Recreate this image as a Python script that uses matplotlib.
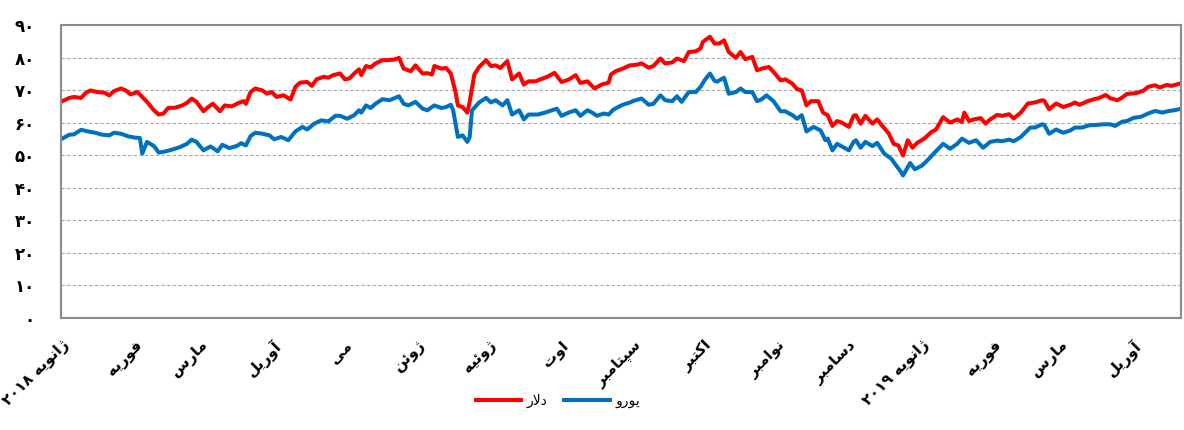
"""USD and EUR rate chart, Jan 2018 - Apr 2019, Persian labels."""

import matplotlib

matplotlib.use("Agg")
import matplotlib.pyplot as plt  # noqa: E402
import matplotlib.transforms as mtransforms  # noqa: E402
import pandas as pd  # noqa: E402

START = pd.Timestamp("2018-01-01")

# days since 2018-01-01
usd_day = [
    -2, 1, 3, 6, 8, 10, 13, 16, 18, 20, 23, 25, 27, 30, 32, 34, 37, 39, 41, 43, 46, 49, 51, 53, 55,
    58, 60, 62, 65, 67, 70, 73, 75,
    76, 78, 80, 83, 85, 87, 89, 92, 95, 97, 99, 102, 104, 106, 109, 111, 113, 116, 118, 120, 122,
    124, 125, 127, 129, 131, 134, 136, 139, 141, 143, 146, 148, 151, 153,
    155, 156, 159, 161, 163, 165, 166, 168, 170, 171, 173, 175, 178, 180, 182, 184, 187, 189, 192,
    194, 196, 199, 201, 204, 207, 210, 213, 216, 218, 221, 224, 227, 230, 231,
    233, 236, 239, 242, 244, 247, 249, 252, 254, 257, 259, 262, 264, 267, 269, 270, 273, 275, 277,
    279, 281, 284, 286, 288, 291, 293, 295, 298, 300, 303, 305, 308, 310,
    312, 314, 316, 319, 321, 323, 325, 327, 329, 332, 334, 335, 337, 339, 342, 344, 346, 349, 351,
    353, 355, 357, 359, 361, 364, 367, 369, 372, 375, 378, 380, 381, 383, 385, 388, 390,
    392, 395, 397, 400, 402, 405, 408, 411, 414, 415, 417, 420, 423, 426, 428, 430, 433, 436, 438,
    441, 443, 446, 448, 450, 454, 457, 459, 462, 464, 467, 469, 472,
]
usd_rate = [
    66.6, 67.6, 67.9, 67.6, 69.1, 69.9, 69.4, 69.2, 68.4, 69.7, 70.5, 69.9, 68.7, 69.4, 67.9, 66.4,
    63.8, 62.5, 62.8, 64.5, 64.6, 65.3, 66.1, 67.4, 66.4, 63.5, 64.8, 65.8, 63.5, 65.3, 65.0, 66.1,
    66.6,
    65.8, 69.4, 70.5, 69.9, 68.9, 69.4, 67.9, 68.4, 67.1, 71.0, 72.3, 72.5, 71.3, 73.3, 74.1, 73.8,
    74.6, 75.1, 73.3, 73.6, 75.1, 76.4, 74.6, 77.4, 77.0, 78.2, 79.2, 79.2, 79.4, 79.9, 76.6, 75.8,
    77.6, 75.1, 75.2,
    74.8, 77.4, 76.6, 76.8, 75.1, 69.4, 65.3, 64.8, 63.1, 66.4, 74.8, 77.1, 79.2, 77.4, 77.6, 76.8,
    78.9, 73.3, 75.1, 71.7, 72.7, 72.7, 73.3, 74.1, 75.3, 72.5, 73.2, 74.6, 72.2, 72.7, 70.5, 71.7,
    72.3, 74.8,
    75.8, 76.6, 77.6, 77.8, 78.2, 76.9, 77.4, 79.7, 78.2, 78.5, 79.7, 78.9, 81.7, 81.9, 82.8, 84.8,
    86.4, 84.3, 84.3, 85.3, 81.7, 79.9, 81.7, 79.5, 80.2, 76.1, 76.6, 77.1, 75.6, 73.0, 73.3, 72.0,
    70.3,
    69.9, 65.3, 66.6, 66.6, 63.1, 62.3, 59.0, 60.5, 60.0, 58.7, 62.1, 62.3, 59.7, 62.1, 59.7, 61.0,
    59.2, 56.6, 53.5, 53.0, 49.9, 54.6, 52.3, 53.8, 55.1, 57.1, 57.9, 61.7, 60.0, 61.0, 60.2, 63.1,
    60.5, 61.0, 61.4, 59.7,
    61.0, 62.4, 62.1, 62.6, 61.3, 63.1, 65.9, 66.2, 66.9, 66.7, 64.1, 65.9, 64.8, 65.5, 66.2, 65.5,
    66.5, 67.2, 67.5, 68.5, 67.5, 66.9, 67.7, 68.8, 69.1, 69.8, 71.0, 71.5, 70.8, 71.6, 71.3, 71.9,
]

eur_day = [
    -2, 1, 3, 6, 9, 12, 15, 18, 20, 23, 26, 29, 31, 32, 34, 37, 39, 42, 45, 48, 51, 53, 55, 58, 61,
    64, 66, 69, 72, 74,
    76, 78, 80, 83, 86, 88, 91, 94, 97, 100, 102, 105, 108, 111, 114, 116, 119, 122, 124, 125, 127,
    129, 131, 134, 137, 141, 143, 145, 148, 151, 153,
    156, 159, 161, 163, 164, 166, 168, 170, 171, 172, 175, 178, 180, 182, 185, 187, 189, 192, 194,
    196, 200, 203, 206, 208, 210, 213, 216, 218, 221, 223, 225, 228, 230, 232,
    234, 236, 239, 241, 244, 247, 249, 252, 254, 257, 259, 261, 264, 267, 269, 271, 273, 275, 276,
    279, 281, 284, 286, 288, 291, 293, 295, 297, 300, 303, 305, 308, 310,
    312, 314, 317, 320, 322, 323, 325, 327, 332, 334, 335, 337, 339, 342, 344, 347, 350, 352, 354,
    355, 358, 360, 363, 366, 368, 372, 375, 378, 380, 383, 386, 389,
    392, 395, 397, 400, 402, 405, 409, 411, 414, 415, 417, 420, 423, 426, 428, 431, 434, 437, 440,
    443, 445, 448, 450, 453, 456, 459, 462, 465, 468, 470, 472,
]
eur_rate = [
    55.1, 56.3, 56.4, 57.8, 57.3, 56.9, 56.3, 56.1, 56.9, 56.6, 55.8, 55.4, 55.3, 50.5, 54.1, 52.8,
    50.8, 51.2, 51.8, 52.5, 53.5, 54.8, 54.1, 51.5, 52.7, 51.2, 53.2, 52.2, 52.8, 53.7,
    53.0, 55.9, 56.9, 56.6, 56.1, 54.9, 55.6, 54.6, 57.3, 58.7, 57.9, 59.7, 60.7, 60.4, 62.1, 62.1,
    61.2, 62.3, 63.8, 63.1, 65.3, 64.5, 65.8, 67.2, 66.9, 68.1, 65.8, 65.3, 66.4, 64.3, 63.8,
    65.3, 64.5, 64.8, 65.5, 63.8, 55.6, 56.1, 54.1, 55.6, 63.8, 66.2, 67.6, 66.2, 66.9, 65.3, 66.9,
    62.5, 63.8, 61.0, 62.5, 62.5, 63.1, 63.8, 64.3, 62.1, 63.1, 63.8, 62.1, 63.8, 63.1, 62.1, 62.8,
    62.5, 64.0,
    64.8, 65.5, 66.2, 66.8, 67.4, 65.5, 65.8, 68.4, 66.9, 66.6, 68.1, 66.4, 69.4, 69.4, 71.0, 73.3,
    75.1, 72.8, 72.6, 73.8, 68.9, 69.4, 70.5, 69.4, 69.4, 66.6, 67.2, 68.4, 66.6, 63.5, 63.5, 62.3,
    61.2,
    62.3, 57.3, 58.7, 57.6, 54.6, 55.1, 51.5, 53.5, 51.5, 54.1, 54.6, 52.3, 54.1, 52.8, 53.8, 50.5,
    48.9, 46.9, 45.0, 43.8, 47.6, 45.7, 46.8, 48.9, 50.5, 53.5, 52.0, 53.5, 55.1, 53.8, 54.6, 52.3,
    54.1, 54.5, 54.3, 54.8, 54.3, 55.6, 58.5, 58.5, 59.5, 59.3, 56.6, 57.9, 56.9, 57.6, 58.5, 58.5,
    59.2, 59.3, 59.5, 59.5, 59.0, 60.3, 60.5, 61.5, 61.8, 62.8, 63.6, 63.1, 63.6, 63.8, 64.1,
]

month_labels = [
    "ژانویه ۲۰۱۸", "فوریه", "مارس", "آوریل", "می", "ژوئن", "ژوئیه", "اوت",
    "سپتامبر", "اکتبر", "نوامبر", "دسامبر", "ژانویه ۲۰۱۹", "فوریه", "مارس", "آوریل",
]
series_labels = ["دلار", "یورو"]
y_ticks = [0, 10, 20, 30, 40, 50, 60, 70, 80, 90]

# matplotlib does no Arabic shaping, so pick the presentation forms by hand
# (isolated, final, initial, medial)
FORMS = {
    "ا": ("\uFE8D", "\uFE8E", None, None),
    "آ": ("\uFE81", "\uFE82", None, None),
    "ب": ("\uFE8F", "\uFE90", "\uFE91", "\uFE92"),
    "پ": ("\uFB56", "\uFB57", "\uFB58", "\uFB59"),
    "ت": ("\uFE95", "\uFE96", "\uFE97", "\uFE98"),
    "د": ("\uFEA9", "\uFEAA", None, None),
    "ر": ("\uFEAD", "\uFEAE", None, None),
    "ژ": ("\uFB8A", "\uFB8B", None, None),
    "س": ("\uFEB1", "\uFEB2", "\uFEB3", "\uFEB4"),
    "ف": ("\uFED1", "\uFED2", "\uFED3", "\uFED4"),
    "ک": ("\uFB8E", "\uFB8F", "\uFB90", "\uFB91"),
    "ل": ("\uFEDD", "\uFEDE", "\uFEDF", "\uFEE0"),
    "م": ("\uFEE1", "\uFEE2", "\uFEE3", "\uFEE4"),
    "ن": ("\uFEE5", "\uFEE6", "\uFEE7", "\uFEE8"),
    "ه": ("\uFEE9", "\uFEEA", "\uFEEB", "\uFEEC"),
    "و": ("\uFEED", "\uFEEE", None, None),
    "ی": ("\uFBFC", "\uFBFD", "\uFBFE", "\uFBFF"),
    "ئ": ("\uFE89", "\uFE8A", "\uFE8B", "\uFE8C"),
}


def _shape_word(word: str) -> str:
    glyphs = []
    i = 0
    while i < len(word):
        ch = word[i]
        prev_joins = i > 0 and word[i - 1] in FORMS and FORMS[word[i - 1]][2] is not None
        if ch == "ل" and i + 1 < len(word) and word[i + 1] == "ا":
            glyphs.append("\uFEFC" if prev_joins else "\uFEFB")
            i += 2
            continue
        iso, fin, ini, med = FORMS[ch]
        next_joins = ini is not None and i + 1 < len(word) and word[i + 1] in FORMS
        if prev_joins and next_joins:
            glyphs.append(med)
        elif prev_joins:
            glyphs.append(fin)
        elif next_joins:
            glyphs.append(ini)
        else:
            glyphs.append(iso)
        i += 1
    return "".join(glyphs)


def fa(text: str) -> str:
    """Shape a Persian string and put it in visual (left-to-right) order."""
    words = []
    for word in text.split(" "):
        if word and word[0] in FORMS:
            words.append(_shape_word(word)[::-1])
        else:
            words.append(word)
    return " ".join(reversed(words))


def fa_digits(value: int) -> str:
    return str(value).translate(str.maketrans("0123456789", "۰۱۲۳۴۵۶۷۸۹"))


def main() -> None:
    plt.rcParams["font.family"] = ["DejaVu Sans"]

    usd_x = START + pd.to_timedelta(usd_day, unit="D")
    eur_x = START + pd.to_timedelta(eur_day, unit="D")
    month_ticks = pd.date_range("2018-01-01", "2019-04-01", freq="MS")

    fig = plt.figure(figsize=(11.84, 4.30), dpi=100)
    ax = fig.add_axes([61 / 1184, 1 - 318 / 430, 1120 / 1184, 293 / 430])

    ax.plot(usd_x, usd_rate, color="#ff0000", lw=2.9, label=fa(series_labels[0]))
    ax.plot(eur_x, eur_rate, color="#0070c0", lw=2.9, label=fa(series_labels[1]))

    ax.set_xlim(START - pd.Timedelta(days=2.5), START + pd.Timedelta(days=473))
    ax.set_ylim(0, 90)

    ax.set_yticks(y_ticks)
    ax.set_yticklabels([fa_digits(v) for v in y_ticks], fontsize=12, fontweight="bold")
    # the source draws the value labels a few pixels above their gridlines
    lift = mtransforms.ScaledTranslation(0, 4 / 72, fig.dpi_scale_trans)
    for label in ax.get_yticklabels():
        label.set_transform(label.get_transform() + lift)
    ax.yaxis.grid(True, linestyle=(0, (3, 2)), color="#a6a6a6", lw=0.8)
    ax.set_axisbelow(True)

    ax.set_xticks(month_ticks)
    ax.set_xticklabels(
        [fa(m) for m in month_labels],
        rotation=45,
        ha="right",
        va="center",
        rotation_mode="anchor",
        fontsize=11,
        fontweight="bold",
    )
    ax.tick_params(axis="both", length=0)
    ax.tick_params(axis="y", pad=19)
    ax.tick_params(axis="x", pad=18)

    for spine in ax.spines.values():
        spine.set_color("#8c8c8c")
        spine.set_linewidth(1.5)

    ax.legend(
        loc="center",
        bbox_to_anchor=(558 / 1184, 1 - 401 / 430),
        bbox_transform=fig.transFigure,
        ncol=2,
        frameon=False,
        fontsize=10,
        handlelength=3.3,
        handletextpad=0.4,
        columnspacing=1.2,
    )

    fig.savefig("out.png", dpi=100)


if __name__ == "__main__":
    main()
